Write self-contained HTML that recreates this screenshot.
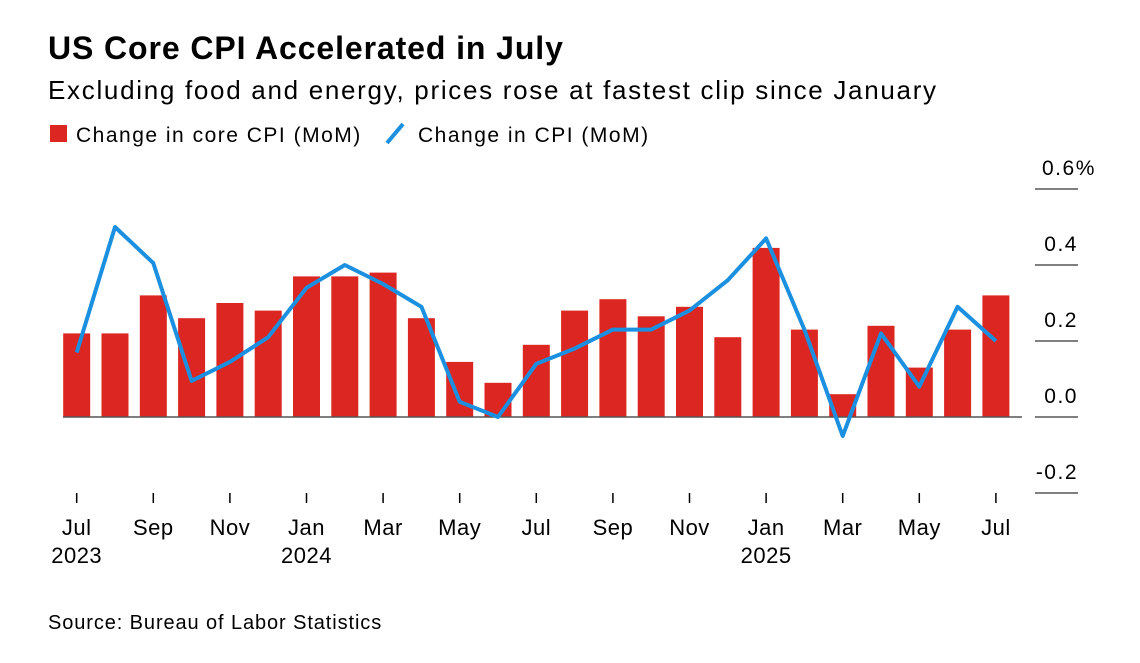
<!DOCTYPE html>
<html><head><meta charset="utf-8"><style>
body{margin:0;background:#fff;font-family:"Liberation Sans",Arial,sans-serif;}
svg text{font-family:"Liberation Sans",Arial,sans-serif;}
</style></head><body>
<svg width="1140" height="658" viewBox="0 0 1140 658">
<text x="48" y="59" font-size="32" letter-spacing="0.9" font-weight="bold" fill="#000">US Core CPI Accelerated in July</text>
<text x="48" y="99" font-size="26" letter-spacing="1.7" fill="#000">Excluding food and energy, prices rose at fastest clip since January</text>
<g>
<rect x="50" y="125" width="17" height="17" fill="#dc2621"/>
<text x="76" y="142" font-size="21" letter-spacing="1.5">Change in core CPI (MoM)</text>
<line x1="387" y1="143" x2="403" y2="124" stroke="#1b8fe0" stroke-width="4"/>
<text x="418" y="142" font-size="21" letter-spacing="1.5">Change in CPI (MoM)</text>
</g>
<g id="plot"></g>
<text x="48" y="629" font-size="20" letter-spacing="0.9">Source: Bureau of Labor Statistics</text>
</svg>
<script>
const months=["Jul","Aug","Sep","Oct","Nov","Dec","Jan","Feb","Mar","Apr","May","Jun","Jul","Aug","Sep","Oct","Nov","Dec","Jan","Feb","Mar","Apr","May","Jun","Jul"];
const years={0:"2023",6:"2024",18:"2025"};
const coreCPI=[0.22,0.22,0.32,0.26,0.30,0.28,0.37,0.37,0.38,0.26,0.145,0.09,0.19,0.28,0.31,0.265,0.29,0.21,0.445,0.23,0.06,0.24,0.13,0.23,0.32];
const cpi=[0.17,0.50,0.405,0.095,0.145,0.21,0.34,0.40,0.35,0.29,0.04,0.0,0.14,0.18,0.23,0.23,0.28,0.36,0.47,0.23,-0.05,0.22,0.08,0.29,0.20];
const yTicks=[-0.2,0,0.2,0.4,0.6];
const yTickLabels=["-0.2","0.0","0.2","0.4","0.6%"];
const NS="http://www.w3.org/2000/svg";
const g=document.getElementById('plot');
const xs=i=>76.7+38.3*i;
const ys=v=>417-v*380;
function mk(t,a){const e=document.createElementNS(NS,t);for(const k in a)e.setAttribute(k,a[k]);g.appendChild(e);return e;}
yTicks.forEach((v,i)=>{
 const l=mk('line',{x1:1035,x2:1078,y1:ys(v),y2:ys(v),stroke:'#000','stroke-width':1});
 
 
 const t=mk('text',{x:i==4?1042:1078,y:ys(v)-14,'font-size':21,'letter-spacing':1.5,'text-anchor':i==4?'start':'end'});
 t.textContent=yTickLabels[i];
 
 
});
coreCPI.forEach((v,i)=>{
 const r=mk('rect',{x:xs(i)-13.5,width:27,y:Math.min(ys(v),ys(0)),height:Math.abs(ys(v)-ys(0)),fill:'#dc2621'});
 
 
});
const z=mk('line',{x1:63,x2:1022,y1:ys(0),y2:ys(0),stroke:'#555','stroke-width':1.5});


const p=mk('polyline',{points:cpi.map((v,i)=>xs(i)+','+ys(v)).join(' '),fill:'none',stroke:'#1b8fe0','stroke-width':4,'stroke-linejoin':'round'});


months.forEach((m,i)=>{
 if(i%2)return;
 const tk=mk('line',{x1:xs(i),x2:xs(i),y1:493,y2:503,stroke:'#000','stroke-width':1.5});
 
 
 const t=mk('text',{x:xs(i),y:535,'font-size':22,'letter-spacing':0.5,'text-anchor':'middle'});
 t.textContent=m;
 
 
 if(years[i]){const y=mk('text',{x:xs(i),y:563,'font-size':22,'letter-spacing':0.5,'text-anchor':'middle'});y.textContent=years[i];
 
 }
});
</script>
</body></html>
